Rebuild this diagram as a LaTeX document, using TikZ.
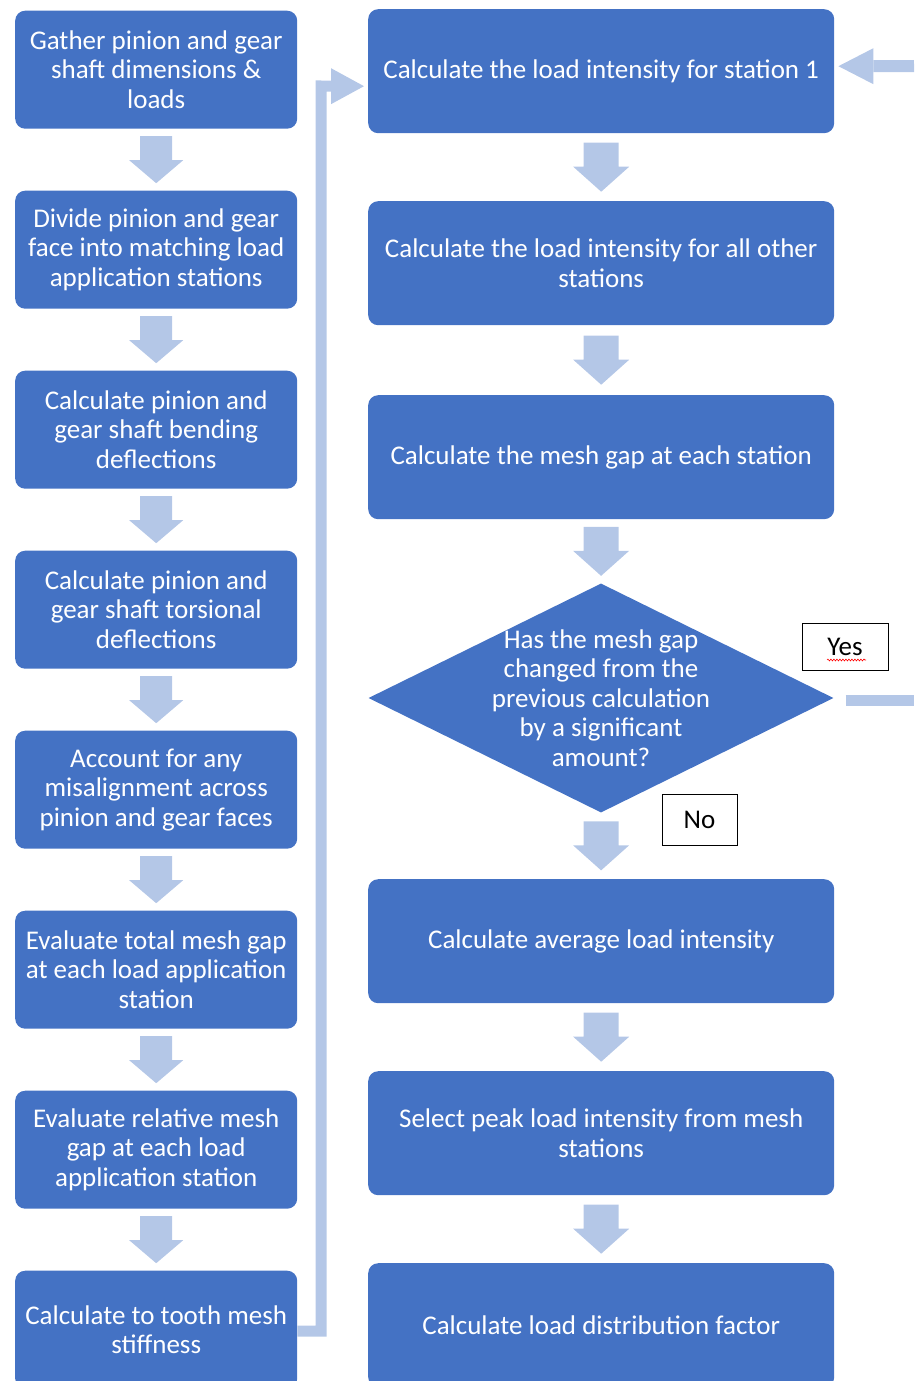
\documentclass[tikz,border=0pt]{standalone}
\usepackage{fontspec}
\setmainfont{Carlito}
\usetikzlibrary{shapes.geometric,calc,decorations.pathmorphing}
\definecolor{boxblue}{HTML}{4472C4}
\definecolor{arrowc}{HTML}{B4C7E7}
\begin{document}
\begin{tikzpicture}[x=1pt,y=-1pt,
  txt/.style={font=\fontsize{27}{29.5}\selectfont},
  box/.style={txt, fill=boxblue, rounded corners=10pt, text=white, align=center, inner sep=0pt},
  lbox/.style={box, minimum width=282pt, minimum height=118pt, anchor=north west},
  rbox/.style={box, minimum width=466pt, minimum height=124pt, anchor=north west},
  lab/.style={txt, draw=black, line width=0.8pt, fill=white, inner sep=0pt, text=black},
  ldown/.pic={\fill[arrowc] (-16,-23.5) -- (16,-23.5) -- (16,0.5) -- (27,0.5) -- (0,23.5) -- (-27,0.5) -- (-16,0.5) -- cycle;},
  rdown/.pic={\fill[arrowc] (-17.5,-24.5) -- (17.5,-24.5) -- (17.5,-0.5) -- (28,-0.5) -- (0,24.5) -- (-28,-0.5) -- (-17.5,-0.5) -- cycle;},
]
\path[use as bounding box, clip] (0,0) rectangle (914,1381);

% left column
\node[lbox] (L1) at (15,10.5) {Gather pinion and gear\\shaft dimensions \&\\loads};
\node[lbox] (L2) at (15,190.5) {Divide pinion and gear\\face into matching load\\application stations};
\node[lbox] (L3) at (15,370.5) {Calculate pinion and\\gear shaft bending\\deflections};
\node[lbox] (L4) at (15,550.5) {Calculate pinion and\\gear shaft torsional\\deflections};
\node[lbox] (L5) at (15,730.5) {Account for any\\misalignment across\\pinion and gear faces};
\node[lbox] (L6) at (15,910.5) {Evaluate total mesh gap\\at each load application\\station};
\node[lbox] (L7) at (15,1090.5) {Evaluate relative mesh\\gap at each load\\application station};
\node[lbox] (L8) at (15,1270.5) {Calculate to tooth mesh\\stiffness};

% right column
\node[rbox] (R1) at (368,9) {Calculate the load intensity for station 1};
\node[rbox] (R2) at (368,201) {Calculate the load intensity for all other\\stations};
\node[rbox] (R3) at (368,395) {Calculate the mesh gap at each station};
\node[diamond, fill=boxblue, minimum width=465pt, minimum height=229pt, inner sep=0pt] (D) at (601,698) {};
\node[txt, text=white, align=center, inner sep=0pt] (DT) at (D.center) {Has the mesh gap\\changed from the\\previous calculation\\by a significant\\amount?};
\node[rbox] (R5) at (368,879) {Calculate average load intensity};
\node[rbox] (R6) at (368,1071) {Select peak load intensity from mesh\\stations};
\node[rbox] (R7) at (368,1263) {Calculate load distribution factor};

% labels
\node[lab, minimum width=86pt, minimum height=47pt] (Y) at (845,646.5) {Yes};
\draw[red, line width=0.6pt, decorate, decoration={snake, amplitude=0.9pt, segment length=3pt}]
  ($(Y.center)+(-18,13.5)$) -- ($(Y.center)+(21,13.5)$);
\node[lab, minimum width=75pt, minimum height=51pt] (N) at (699.5,819.5) {No};

% down block arrows, left
\foreach \a/\b in {L1/L2,L2/L3,L3/L4,L4/L5,L5/L6,L6/L7,L7/L8}
  \pic at ($(\a.south)!0.5!(\b.north)$) {ldown};
% down block arrows, right
\foreach \a/\b in {R1/R2,R2/R3,R3/D,D/R5,R5/R6,R6/R7}
  \pic at ($(\a.south)!0.5!(\b.north)$) {rdown};

% elbow connector from L8 to R1
\coordinate (e1) at (321,1331);
\coordinate (e2) at (321,86);
\coordinate (e3) at ($(R1.west)+(-37,15)$);
\draw[arrowc, line width=11pt, line join=miter] (L8.east |- e1) -- (e1) -- (e2) -- (e3);
\fill[arrowc] ($(R1.west)+(-37,-3)$) -- ($(R1.west)+(-4,15)$) -- ($(R1.west)+(-37,33)$) -- cycle;

% return arrow into R1 from the right
\coordinate (rin) at (914,66);
\draw[arrowc, line width=12pt] (rin) -- ($(R1.east)+(39,-5)$);
\fill[arrowc] ($(R1.east)+(39,-23)$) -- ($(R1.east)+(4,-5)$) -- ($(R1.east)+(39,13)$) -- cycle;

% Yes line leaving the diamond
\coordinate (yout) at (914,700.5);
\draw[arrowc, line width=11pt] ($(D.east)+(12,2.5)$) -- (yout);
\end{tikzpicture}
\end{document}
